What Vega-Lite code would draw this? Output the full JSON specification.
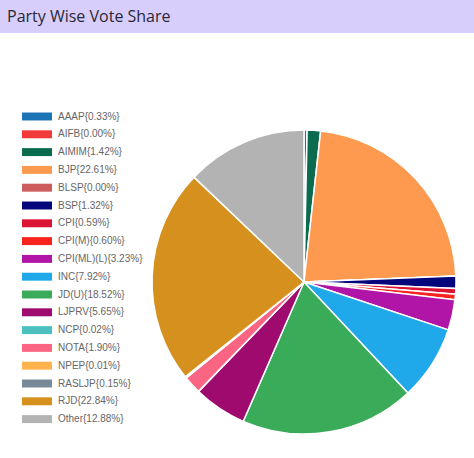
{
  "$schema": "https://vega.github.io/schema/vega-lite/v6.json",
  "padding": 0,
  "background": "white",
  "spacing": 73,
  "resolve": {"scale": {"color": "independent"}, "legend": {"color": "independent"}},
  "vconcat": [
    {
      "width": 474,
      "height": 33,
      "data": {"values": [{}]},
      "title": {
        "text": "Party Wise Vote Share",
        "anchor": "start",
        "frame": "group",
        "baseline": "alphabetic",
        "offset": -38,
        "dx": 7,
        "font": "Open Sans",
        "fontSize": 16,
        "fontWeight": "normal",
        "color": "#2a2838"
      },
      "mark": {"type": "rect", "color": "#d8cefb"}
    },
    {
      "hconcat": [
        {
          "width": 134,
          "height": 352,
          "data": {"values": [{}]},
          "mark": {"type": "rect", "opacity": 0}
        },
        {
          "width": 340,
          "height": 352,
          "data": {
            "values": [
              {"idx": 1, "label": "AAAP{0.33%}", "share": 0.33},
              {"idx": 2, "label": "AIFB{0.00%}", "share": 0},
              {"idx": 3, "label": "AIMIM{1.42%}", "share": 1.42},
              {"idx": 4, "label": "BJP{22.61%}", "share": 22.61},
              {"idx": 5, "label": "BLSP{0.00%}", "share": 0},
              {"idx": 6, "label": "BSP{1.32%}", "share": 1.32},
              {"idx": 7, "label": "CPI{0.59%}", "share": 0.59},
              {"idx": 8, "label": "CPI(M){0.60%}", "share": 0.60},
              {"idx": 9, "label": "CPI(ML)(L){3.23%}", "share": 3.23},
              {"idx": 10, "label": "INC{7.92%}", "share": 7.92},
              {"idx": 11, "label": "JD(U){18.52%}", "share": 18.52},
              {"idx": 12, "label": "LJPRV{5.65%}", "share": 5.65},
              {"idx": 13, "label": "NCP{0.02%}", "share": 0.02},
              {"idx": 14, "label": "NOTA{1.90%}", "share": 1.90},
              {"idx": 15, "label": "NPEP{0.01%}", "share": 0.01},
              {"idx": 16, "label": "RASLJP{0.15%}", "share": 0.15},
              {"idx": 17, "label": "RJD{22.84%}", "share": 22.84},
              {"idx": 18, "label": "Other{12.88%}", "share": 12.88}
            ]
          },
          "mark": {"type": "arc", "radius": 152, "stroke": "#ffffff", "strokeWidth": 1.5},
          "encoding": {
            "theta": {"field": "share", "type": "quantitative", "stack": true},
            "order": {"field": "idx", "type": "quantitative"},
            "color": {
              "field": "label",
              "type": "nominal",
              "scale": {
                "domain": ["AAAP{0.33%}", "AIFB{0.00%}", "AIMIM{1.42%}", "BJP{22.61%}", "BLSP{0.00%}", "BSP{1.32%}", "CPI{0.59%}", "CPI(M){0.60%}", "CPI(ML)(L){3.23%}", "INC{7.92%}", "JD(U){18.52%}", "LJPRV{5.65%}", "NCP{0.02%}", "NOTA{1.90%}", "NPEP{0.01%}", "RASLJP{0.15%}", "RJD{22.84%}", "Other{12.88%}"],
                "range": ["#1a74b5", "#f23a3a", "#0b6b4f", "#fd9a50", "#cd5c5c", "#05057c", "#dc1433", "#f8221e", "#b015a8", "#1fa9ea", "#3aac59", "#9e0a6e", "#4cc0c0", "#fb6584", "#ffb24e", "#778899", "#d5901e", "#b3b3b3"]
              },
              "legend": {
                "title": null,
                "orient": "none",
                "legendX": -104.5,
                "legendY": 3,
                "padding": 0,
                "symbolType": "M-2,-0.53L2,-0.53L2,0.53L-2,0.53Z",
                "symbolSize": 225,
                "symbolStrokeWidth": 0,
                "symbolOpacity": 1,
                "labelOffset": 13.5,
                "labelFont": "Liberation Sans",
                "labelFontSize": 10,
                "labelColor": "#666666",
                "rowPadding": 4.8
              }
            }
          }
        }
      ],
      "spacing": 0,
      "bounds": "flush",
      "resolve": {"scale": {"color": "independent"}, "legend": {"color": "independent"}}
    }
  ],
  "config": {"view": {"stroke": null}}
}
